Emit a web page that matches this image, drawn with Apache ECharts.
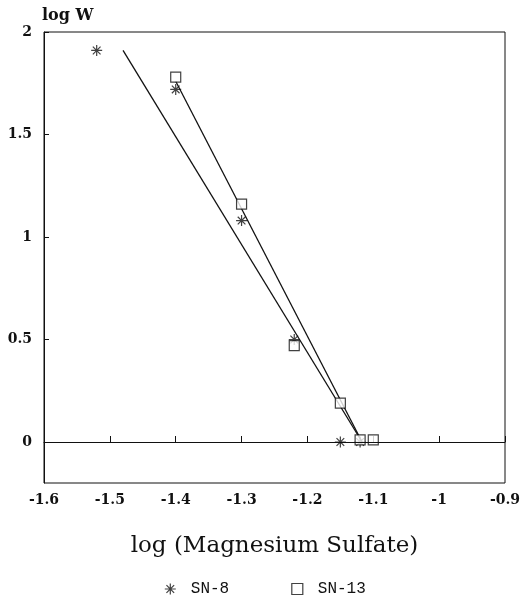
<!DOCTYPE html>
<html>
<head>
<meta charset="utf-8">
<script src="https://cdn.jsdelivr.net/npm/echarts@6/dist/echarts.min.js"></script>
<style>
  html, body { margin: 0; padding: 0; background: #fff; }
  #chart { width: 530px; height: 604px; }
</style>
</head>
<body>
<div id="chart"></div>
<script>
// measured points, log(MgSO4) vs log W
const sn8X = [-1.52, -1.40, -1.30, -1.22, -1.15, -1.12]
const sn8Y = [1.91, 1.72, 1.08, 0.50, 0.00, 0.00]
const sn13X = [-1.40, -1.30, -1.22, -1.15, -1.12, -1.10]
const sn13Y = [1.78, 1.16, 0.47, 0.19, 0.01, 0.01]

// fitted lines (end points)
const fit8X = [-1.48, -1.117]
const fit8Y = [1.91, 0.0]
const fit13X = [-1.40, -1.117]
const fit13Y = [1.76, 0.0]

const yTicks = [0, 0.5, 1, 1.5, 2]

const star = 'path://M0,-10L0,10M-10,0L10,0M-7,-7L7,7M-7,7L7,-7'
const font = '"DejaVu Serif", serif'

const pairs = (xs, ys) => xs.map((x, i) => [x, ys[i]])

const chart = echarts.init(document.getElementById('chart'))
chart.setOption({
  animation: false,
  grid: {
    left: 44, right: 25, top: 32, bottom: 121,
    show: true, borderColor: '#111', borderWidth: 1
  },
  legend: {
    bottom: 2,
    left: 'center',
    itemGap: 62,
    itemWidth: 11,
    itemHeight: 11,
    textStyle: { fontFamily: '"Liberation Mono", monospace', fontSize: 16, color: '#111', padding: [0, 0, 0, 10] },
    data: [
      { name: 'SN-8', icon: star, itemStyle: { color: 'transparent', borderColor: '#111', borderWidth: 1.2 } },
      { name: 'SN-13', icon: 'rect', itemStyle: { color: '#fff', borderColor: '#111', borderWidth: 1.2 } }
    ]
  },
  xAxis: {
    type: 'value',
    min: -1.6, max: -0.9, interval: 0.1,
    name: 'log (Magnesium Sulfate)',
    nameLocation: 'middle',
    nameGap: 52,
    nameTextStyle: { fontFamily: font, fontSize: 23, color: '#111' },
    axisLine: { lineStyle: { color: '#111' } },
    axisTick: { inside: true, length: 6, lineStyle: { color: '#111' } },
    axisLabel: { fontFamily: font, fontSize: 14, fontWeight: 'bold', color: '#111', margin: 10 },
    splitLine: { show: false }
  },
  yAxis: {
    type: 'value',
    min: -0.2, max: 2,
    name: 'log W',
    nameLocation: 'end',
    nameGap: 8,
    nameTextStyle: { fontFamily: font, fontSize: 16, fontWeight: 'bold', color: '#111', align: 'left', padding: [0, 0, 0, -2] },
    axisLine: { lineStyle: { color: '#111' } },
    axisTick: { inside: true, length: 5, customValues: yTicks, lineStyle: { color: '#111' } },
    axisLabel: { fontFamily: font, fontSize: 14, fontWeight: 'bold', color: '#111', margin: 12, customValues: yTicks },
    splitLine: { show: false }
  },
  series: [
    {
      name: 'SN-8',
      type: 'scatter',
      symbol: star,
      symbolSize: 11,
      itemStyle: { color: 'transparent', borderColor: '#111', borderWidth: 1.2 },
      data: pairs(sn8X, sn8Y),
      markLine: {
        silent: true,
        symbol: 'none',
        label: { show: false },
        lineStyle: { color: '#111', width: 1, type: 'solid' },
        data: [{ yAxis: 0 }]
      },
      z: 3
    },
    {
      name: 'SN-13',
      type: 'scatter',
      symbol: 'rect',
      symbolSize: 10,
      itemStyle: { color: '#fff', borderColor: '#111', borderWidth: 1.2 },
      data: pairs(sn13X, sn13Y),
      z: 3
    },
    {
      name: 'fit8',
      type: 'line',
      showSymbol: false,
      lineStyle: { color: '#111', width: 1.3 },
      data: pairs(fit8X, fit8Y),
      z: 2
    },
    {
      name: 'fit13',
      type: 'line',
      showSymbol: false,
      lineStyle: { color: '#111', width: 1.3 },
      data: pairs(fit13X, fit13Y),
      z: 2
    }
  ]
})
</script>
</body>
</html>
